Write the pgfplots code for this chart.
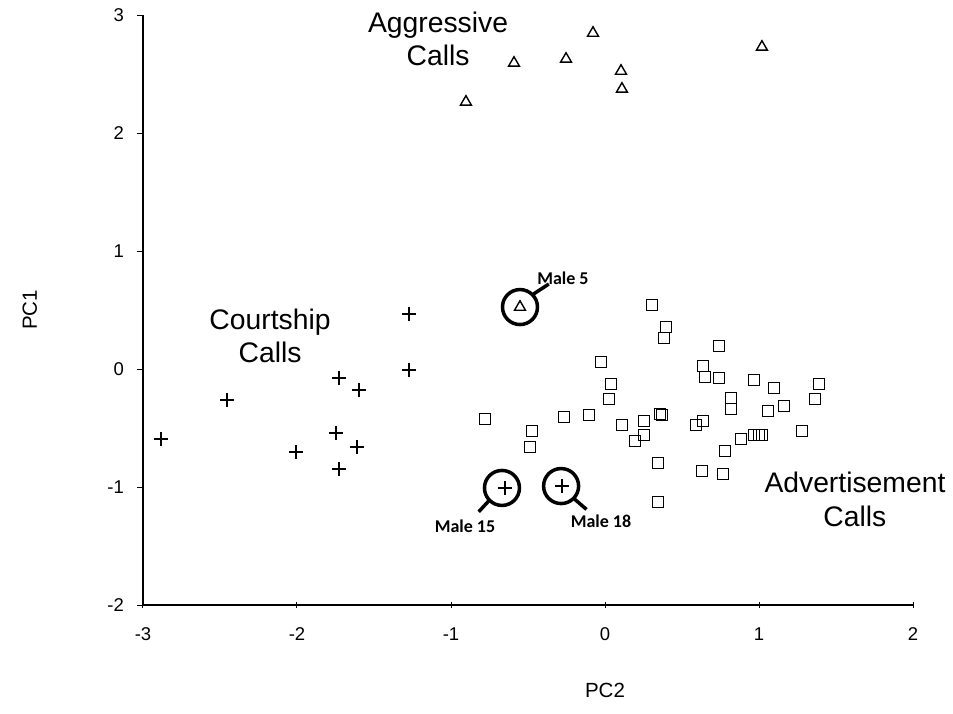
\documentclass[border=0pt]{standalone}
\usepackage{pgfplots}
\pgfplotsset{compat=1.18}
\usepackage{fontspec}
\setmainfont{Liberation Sans}
\newfontfamily\calibri{Carlito}

\begin{document}
\begin{tikzpicture}[x=1pt,y=1pt]
\path[use as bounding box] (-143,-108) rectangle (810,605);
\begin{axis}[
  at={(0,0)}, anchor=south west,
  scale only axis, width=770pt, height=590pt,
  xmin=-3, xmax=2, ymin=-2, ymax=3,
  axis lines*=left,
  axis line style={line width=1.5pt},
  clip=false,
  xtick={-3,-2,-1,0,1,2}, xticklabels={-3,-2,-1,0,1,2},
  ytick={-2,-1,0,1,2,3}, yticklabels={-2,-1,0,1,2,3},
  major tick length=6pt,
  x tick style={line width=1pt, black},
  y tick style={line width=1pt, black},
  xtick align=center, ytick align=outside,
  xticklabel style={font=\fontsize{18.5}{20}\selectfont, inner sep=0pt, anchor=base, yshift=-32pt},
  yticklabel style={font=\fontsize{18.5}{20}\selectfont, inner sep=0pt, anchor=east, xshift=-13pt},
]
% Aggressive calls (triangles)
\addplot[only marks, mark=triangle, mark size=6.3pt, mark options={line width=1.4pt, black}] coordinates {
(-0.078,2.847) (1.019,2.729) (-0.591,2.593) (-0.253,2.627) (0.104,2.525)
(0.110,2.373) (-0.903,2.263) (-0.552,0.525)
};
% Courtship calls (crosses)
\addplot[only marks, mark=+, mark size=7pt, mark options={line width=1.3pt, black}] coordinates {
(-2.883,-0.593) (-2.455,-0.263) (-2.006,-0.703) (-1.727,-0.076) (-1.597,-0.178)
(-1.747,-0.542) (-1.610,-0.661) (-1.727,-0.847) (-1.273,0.466) (-1.273,-0.008)
(-0.649,-1.008) (-0.279,-0.992)
};
% Advertisement calls (squares)
\addplot[only marks, mark=square, mark size=5.3pt, mark options={line width=1.4pt, black}] coordinates {
(0.305,0.542) (0.396,0.356) (0.383,0.263) (-0.026,0.059) (0.039,-0.127)
(0.026,-0.254) (-0.779,-0.424) (-0.474,-0.525) (-0.487,-0.661) (-0.266,-0.407)
(-0.104,-0.390) (0.110,-0.475) (0.253,-0.441) (0.253,-0.559) (0.195,-0.610)
(0.357,-0.381) (0.370,-0.390) (0.344,-0.797) (0.344,-1.127) (0.740,0.195)
(0.636,0.025) (0.649,-0.068) (0.740,-0.076) (0.968,-0.093) (1.097,-0.161)
(1.390,-0.127) (1.364,-0.254) (0.818,-0.246) (0.818,-0.339) (1.058,-0.356)
(1.162,-0.314) (0.591,-0.475) (0.636,-0.441) (0.883,-0.593) (0.968,-0.559)
(1.000,-0.559) (1.019,-0.559) (1.279,-0.525) (0.779,-0.695) (0.630,-0.864)
(0.766,-0.890)
};
% highlight circles around individual males
\addplot[only marks, mark=o, mark size=17.5pt, mark options={line width=3.5pt, black}] coordinates {
(-0.552,0.525) (-0.669,-1.008) (-0.285,-0.992)
};
\draw[line width=3.5pt] (axis cs:-0.465,0.635) -- (axis cs:-0.365,0.72);
\draw[line width=3.5pt] (axis cs:-0.755,-1.118) -- (axis cs:-0.82,-1.21);
\draw[line width=3.5pt] (axis cs:-0.20,-1.10) -- (axis cs:-0.12,-1.19);

\node[font=\calibri\bfseries\fontsize{18}{20}\selectfont] at (axis cs:-0.273,0.77) {Male 5};
\node[font=\calibri\bfseries\fontsize{18}{20}\selectfont] at (axis cs:-0.909,-1.33) {Male 15};
\node[font=\calibri\bfseries\fontsize{18}{20}\selectfont] at (axis cs:-0.026,-1.29) {Male 18};

\node[align=center, font=\fontsize{28.3}{33.5}\selectfont] at (axis cs:-1.084,2.797) {Aggressive\\Calls};
\node[align=center, font=\fontsize{28.3}{33.5}\selectfont] at (axis cs:-2.175,0.28) {Courtship\\Calls};
\node[align=center, font=\fontsize{28.3}{33.5}\selectfont] at (axis cs:1.623,-1.106) {Advertisement\\Calls};

\node[font=\fontsize{20.5}{22}\selectfont] at (rel axis cs:0.6,-0.144) {PC2};
\node[font=\fontsize{20.5}{22}\selectfont, rotate=90] at (rel axis cs:-0.147,0.5) {PC1};
\end{axis}
\end{tikzpicture}
\end{document}
